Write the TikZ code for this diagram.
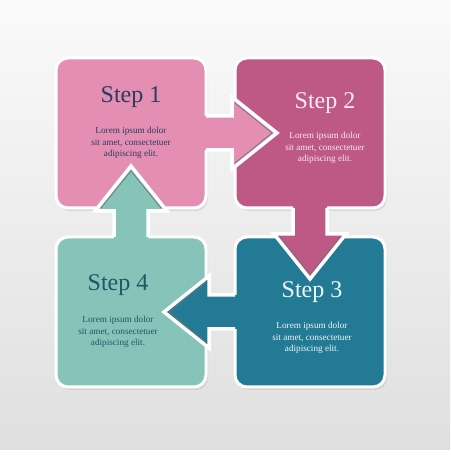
\documentclass[tikz,border=0pt]{standalone}
\usepackage{fontspec}
\setmainfont{Liberation Serif}
\usetikzlibrary{calc,shadows}

\definecolor{stepA}{HTML}{E48EB4}
\definecolor{stepB}{HTML}{BE5884}
\definecolor{stepC}{HTML}{237A94}
\definecolor{stepD}{HTML}{86C4B9}
\definecolor{inkA}{HTML}{2B3C5C}
\definecolor{inkB}{HTML}{FAEAF1}
\definecolor{inkC}{HTML}{EEF7F8}
\definecolor{inkD}{HTML}{1E5862}

\tikzset{
  box/.style={draw=white, line width=3pt, rounded corners=12pt, minimum width=150pt,
    minimum height=150pt, inner sep=0pt, outer sep=0pt,
    drop shadow={opacity=0.18, shadow xshift=2pt, shadow yshift=-3pt}},
  rim/.style={draw=white, line width=3.5pt},
  chev/.style={draw=black!55, line width=0.7pt},
  title/.style={font=\fontsize{24}{28}\selectfont},
  body/.style={font=\fontsize{9.2}{11.8}\selectfont, align=center}
}

\begin{document}
\begin{tikzpicture}[x=1pt, y=1pt]
\useasboundingbox (0,0) rectangle (450,470);
\fill[white] (0,0) rectangle (450,470);
\shade[top color=gray!4, bottom color=gray!25] (0,20) rectangle (450,470);

% the four boxes
\node[box, fill=stepA] (s1) at (131,337) {};
\node[box, fill=stepB] (s2) at (310,337) {};
\node[box, fill=stepC] (s3) at (310,158) {};
\node[box, fill=stepD] (s4) at (131,158) {};

% arrow 1 -> 2
\fill[stepA] ($(s1.east)+(-4,17)$) -- ($(s2.west)+(-3,17)$) -- ($(s2.west)+(-3,36)$) -- ($(s2.west)+(42,0)$)
  -- ($(s2.west)+(-3,-36)$) -- ($(s2.west)+(-3,-17)$) -- ($(s1.east)+(-4,-17)$) -- cycle;
\draw[rim] ($(s1.east)+(0,17)$) -- ($(s2.west)+(-3,17)$) -- ($(s2.west)+(-3,36)$) -- ($(s2.west)+(42,0)$)
  -- ($(s2.west)+(-3,-36)$) -- ($(s2.west)+(-3,-17)$) -- ($(s1.east)+(0,-17)$);
\draw[chev] ($(s2.west)+(0,30)$) -- ($(s2.west)+(37,0)$) -- ($(s2.west)+(0,-30)$);

% arrow 2 -> 3
\fill[stepB] ($(s2.south)+(17,4)$) -- ($(s3.north)+(17,3)$) -- ($(s3.north)+(36,3)$) -- ($(s3.north)+(0,-42)$)
  -- ($(s3.north)+(-36,3)$) -- ($(s3.north)+(-17,3)$) -- ($(s2.south)+(-17,4)$) -- cycle;
\draw[rim] ($(s2.south)+(17,0)$) -- ($(s3.north)+(17,3)$) -- ($(s3.north)+(36,3)$) -- ($(s3.north)+(0,-42)$)
  -- ($(s3.north)+(-36,3)$) -- ($(s3.north)+(-17,3)$) -- ($(s2.south)+(-17,0)$);
\draw[chev] ($(s3.north)+(30,0)$) -- ($(s3.north)+(0,-37)$) -- ($(s3.north)+(-30,0)$);

% arrow 3 -> 4
\fill[stepC] ($(s3.west)+(4,17)$) -- ($(s4.east)+(3,17)$) -- ($(s4.east)+(3,36)$) -- ($(s4.east)+(-42,0)$)
  -- ($(s4.east)+(3,-36)$) -- ($(s4.east)+(3,-17)$) -- ($(s3.west)+(4,-17)$) -- cycle;
\draw[rim] ($(s3.west)+(0,17)$) -- ($(s4.east)+(3,17)$) -- ($(s4.east)+(3,36)$) -- ($(s4.east)+(-42,0)$)
  -- ($(s4.east)+(3,-36)$) -- ($(s4.east)+(3,-17)$) -- ($(s3.west)+(0,-17)$);
\draw[chev] ($(s4.east)+(0,30)$) -- ($(s4.east)+(-37,0)$) -- ($(s4.east)+(0,-30)$);

% arrow 4 -> 1
\fill[stepD] ($(s4.north)+(-17,-4)$) -- ($(s1.south)+(-17,-3)$) -- ($(s1.south)+(-36,-3)$) -- ($(s1.south)+(0,42)$)
  -- ($(s1.south)+(36,-3)$) -- ($(s1.south)+(17,-3)$) -- ($(s4.north)+(17,-4)$) -- cycle;
\draw[rim] ($(s4.north)+(-17,0)$) -- ($(s1.south)+(-17,-3)$) -- ($(s1.south)+(-36,-3)$) -- ($(s1.south)+(0,42)$)
  -- ($(s1.south)+(36,-3)$) -- ($(s1.south)+(17,-3)$) -- ($(s4.north)+(17,0)$);
\draw[chev] ($(s1.south)+(-30,0)$) -- ($(s1.south)+(0,37)$) -- ($(s1.south)+(30,0)$);

% texts
\node[title, text=inkA] (t1) at (131,373) {Step 1};
\node[body, text=inkA] (d1) at (131,327) {Lorem ipsum dolor\\sit amet, consectetuer\\adipiscing elit.};
\node[title, text=inkB] (t2) at (325,367) {Step 2};
\node[body, text=inkB] (d2) at (325,322) {Lorem ipsum dolor\\sit amet, consectetuer\\adipiscing elit.};
\node[title, text=inkC] (t3) at (312,178) {Step 3};
\node[body, text=inkC] (d3) at (312,132) {Lorem ipsum dolor\\sit amet, consectetuer\\adipiscing elit.};
\node[title, text=inkD] (t4) at (118,185) {Step 4};
\node[body, text=inkD] (d4) at (118,138) {Lorem ipsum dolor\\sit amet, consectetuer\\adipiscing elit.};
\end{tikzpicture}
\end{document}
